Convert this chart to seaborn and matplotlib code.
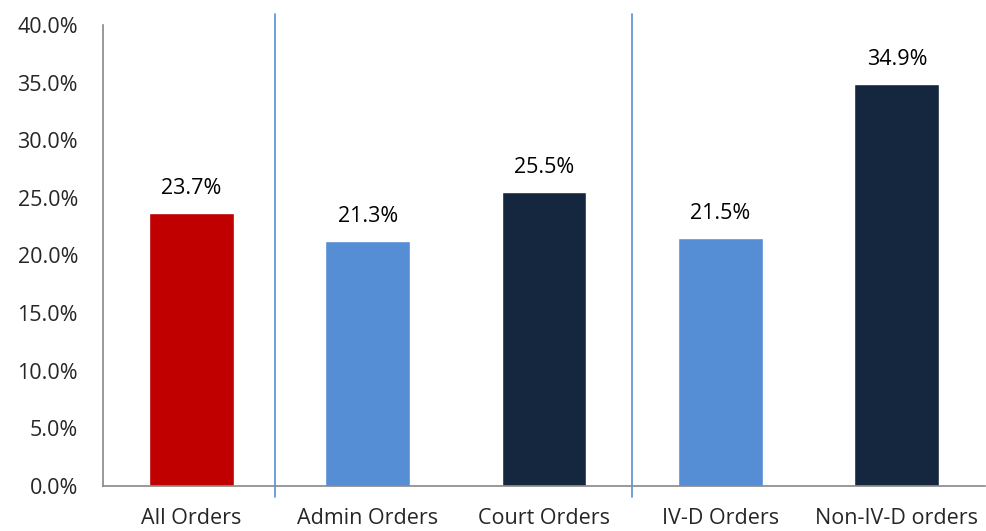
import numpy as np
import pandas as pd
import matplotlib
matplotlib.use('Agg')
import matplotlib.pyplot as plt
import seaborn as sns

# Chart data
categories = ['All Orders', 'Admin Orders', 'Court Orders', 'IV-D Orders', 'Non-IV-D orders']
values = [23.7, 21.3, 25.5, 21.5, 34.9]
colors = ['#C00000', '#558ED5', '#14273F', '#558ED5', '#14273F']
yticks = [0, 5, 10, 15, 20, 25, 30, 35, 40]

df = pd.DataFrame({'category': categories, 'value': values})

sns.set_style('white')
plt.rcParams['font.family'] = ['Open Sans', 'DejaVu Sans']

fig = plt.figure(figsize=(9.87, 5.31), dpi=100)
ax = fig.add_axes([0.1044, 0.0847, 0.8936, 0.8683])

sns.barplot(data=df, x='category', y='value', hue='category', palette=colors,
            width=0.48, legend=False, ax=ax, saturation=1)

for i, v in enumerate(values):
    ax.text(i, v + 1.2, f'{v:.1f}%', ha='center', va='bottom', fontsize=15.5, color='black')

ax.set_ylim(0, 40)
ax.set_xlim(-0.5, 4.5)
ax.set_yticks(yticks)
ax.set_yticklabels([f'{t:.1f}%' for t in yticks], fontsize=15.5)
ax.set_xticklabels(categories, fontsize=15.5)
ax.tick_params(axis='y', length=0, pad=18)
ax.tick_params(axis='x', length=0, pad=16)
ax.set_xlabel('')
ax.set_ylabel('')

for side in ['top', 'right']:
    ax.spines[side].set_visible(False)
for side in ['left', 'bottom']:
    ax.spines[side].set_color('#888888')
    ax.spines[side].set_linewidth(1.2)

# group separators
trans = ax.get_xaxis_transform()
for xs in [0.475, 2.5]:
    ax.plot([xs, xs], [-0.024, 1.024], transform=trans, color='#558ED5',
            linewidth=1.2, clip_on=False)

fig.savefig('out.png', dpi=100)
